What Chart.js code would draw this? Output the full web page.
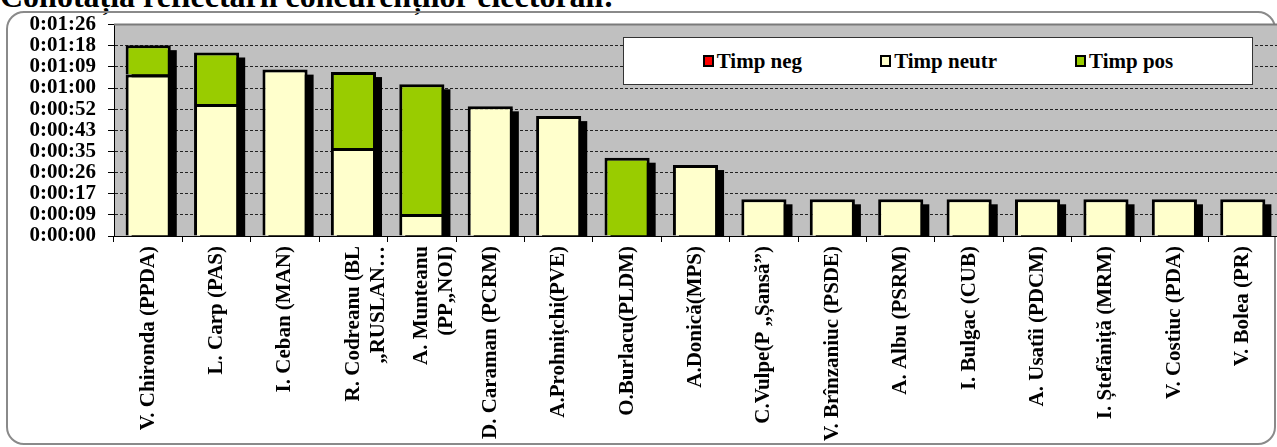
<!DOCTYPE html>
<html>
<head>
<meta charset="utf-8">
<script src="https://cdn.jsdelivr.net/npm/chart.js@4.4.1/dist/chart.umd.min.js"></script>
<style>
  body { margin: 0; width: 1277px; height: 447px; overflow: hidden; position: relative; background: #fff; }
  #title { position: absolute; left: 0; top: -20px; font: bold 32px/32px 'Liberation Serif', 'Times New Roman', serif; white-space: nowrap; color: #000; }
  #frame { position: absolute; left: 6px; top: 11px; width: 1270px; height: 434px; box-sizing: border-box; border: 2px solid #8a8a8a; border-radius: 18px; }
  #wrap { position: absolute; left: 0; top: 0; width: 1277px; height: 447px; }
  #legend { position: absolute; left: 623px; top: 37px; width: 630px; height: 48px; box-sizing: border-box; background: #fff; border: 1px solid #333;
            display: flex; justify-content: center; align-items: center; gap: 78px; font: bold 21px 'Liberation Serif', 'Times New Roman', serif; color: #000; }
  #legend .item { display: flex; align-items: center; }
  #legend .mark { width: 11px; height: 12px; box-sizing: border-box; border: 2px solid #000; margin-right: 3px; }
</style>
</head>
<body>
<div id="title">Conotația reflectării concurenților electorali:</div>
<div id="frame"></div>
<div id="wrap"><canvas id="chart" width="1277" height="447"></canvas></div>
<div id="legend"></div>
<script>
// candidați
const categories = [
    'V. Chironda (PPDA)', 'L. Carp (PAS)', 'I. Ceban (MAN)', ['R. Codreanu (BL', '„RUSLAN…'], ['A. Munteanu', '(PP„NOI)'],
    'D. Caraman (PCRM)', 'A.Prohnițchi(PVE)', 'O.Burlacu(PLDM)', 'A.Donică(MPS)', 'C.Vulpe(P „Șansă”)',
    'V. Brînzaniuc (PSDE)', 'A. Albu (PSRM)', 'I. Bulgac (CUB)', 'A. Usatîi (PDCM)', 'I. Ștefăniță (MRM)',
    'V. Costiuc (PDA)', 'V. Bolea (PR)'
];

// timp în secunde
const timpNeg   = [null, null, null, null, null, null, null, null, null, null, null, null, null, null, null, null, null];
const timpNeutr = [66, 54, 68, 36, 9, 53, 49, null, 29, 15, 15, 15, 15, 15, 15, 15, 15];
const timpPos   = [12, 21, null, 31, 53, null, null, 32, null, null, null, null, null, null, null, null, null];

const seriesNames  = ['Timp neg', 'Timp neutr', 'Timp pos'];
const seriesColors = ['#ff0000', '#ffffcc', '#99cc00'];

// axa Y: pas de 0.0001 zile (8.64 s)
const yTickLabels = ['0:00:00', '0:00:09', '0:00:17', '0:00:26', '0:00:35', '0:00:43', '0:00:52', '0:01:00', '0:01:09', '0:01:18', '0:01:26'];
const yStep = 8.64;

// legenda
const legend = document.getElementById('legend');
seriesNames.forEach((name, i) => {
    let item = document.createElement('div');
    item.className = 'item';
    let mark = document.createElement('span');
    mark.className = 'mark';
    mark.style.background = seriesColors[i];
    item.appendChild(mark);
    item.appendChild(document.createTextNode(name));
    legend.appendChild(item);
});

const plotDecor = {
    id: 'plotDecor',
    beforeDraw(chart) {
        const { ctx, chartArea: a } = chart;
        ctx.save();
        ctx.fillStyle = '#c0c0c0';
        ctx.fillRect(a.left, a.top, a.right - a.left, a.bottom - a.top);
        ctx.restore();
    },
    beforeDatasetsDraw(chart) {
        // umbra neagră a fiecărei coloane
        const { ctx, chartArea: a } = chart;
        ctx.save();
        ctx.beginPath();
        ctx.rect(a.left, a.top, a.right - a.left, a.bottom - a.top);
        ctx.clip();
        ctx.fillStyle = '#000';
        categories.forEach((c, i) => {
            let top = null, el = null;
            chart.data.datasets.forEach((ds, d) => {
                if (ds.data[i] == null) return;
                let e = chart.getDatasetMeta(d).data[i];
                if (top === null || e.y < top) top = e.y;
                el = e;
            });
            if (el === null) return;
            let base = chart.scales.y.getPixelForValue(0);
            ctx.fillRect(el.x - el.width / 2 + 6, top + 5, el.width, base - top - 5);
        });
        ctx.restore();
    },
    afterDraw(chart) {
        const { ctx, chartArea: a } = chart;
        ctx.save();
        ctx.strokeStyle = '#7a7a7a';
        ctx.lineWidth = 2;
        ctx.beginPath();
        ctx.moveTo(a.left, a.top);
        ctx.lineTo(a.right, a.top);
        ctx.stroke();
        ctx.restore();
    }
};

Chart.defaults.font.family = "'Liberation Serif', 'Times New Roman', serif";
Chart.defaults.font.weight = 'bold';
Chart.defaults.font.size = 21;
Chart.defaults.color = '#000';

const datasets = [timpNeg, timpNeutr, timpPos].map((data, i) => ({
    label: seriesNames[i],
    data: data,
    backgroundColor: seriesColors[i],
    borderColor: '#000',
    borderWidth: 3,
    borderSkipped: 'bottom',
    barPercentage: 0.66,
    categoryPercentage: 1
}));

new Chart(document.getElementById('chart'), {
    type: 'bar',
    data: { labels: categories, datasets: datasets },
    options: {
        responsive: false,
        animation: false,
        layout: { padding: { top: 22, left: 0, right: 0, bottom: 0 } },
        plugins: { legend: { display: false }, tooltip: { enabled: false } },
        scales: {
            x: {
                stacked: true,
                z: 1,
                grid: { drawOnChartArea: false, tickLength: 6, color: '#000', offset: true },
                border: { color: '#000', width: 1 },
                ticks: { minRotation: 90, maxRotation: 90, autoSkip: false, padding: 4, font: { size: 21 } },
                afterFit(scale) { scale.height = 211; }
            },
            y: {
                stacked: true,
                min: 0,
                max: yStep * (yTickLabels.length - 1),
                afterBuildTicks(scale) {
                    scale.ticks = yTickLabels.map((l, i) => ({ value: i * yStep }));
                },
                afterFit(scale) { scale.width = 114; },
                grid: {
                    color: ctx => ctx.index === yTickLabels.length - 1 ? 'rgba(0,0,0,0)' : '#222',
                    tickColor: '#000',
                    tickLength: 6,
                    tickBorderDash: []
                },
                border: { color: '#000', width: 1, dash: [3, 2] },
                ticks: {
                    autoSkip: false,
                    padding: 12,
                    callback: (v, i) => yTickLabels[i]
                }
            }
        }
    },
    plugins: [plotDecor]
});
</script>
</body>
</html>
